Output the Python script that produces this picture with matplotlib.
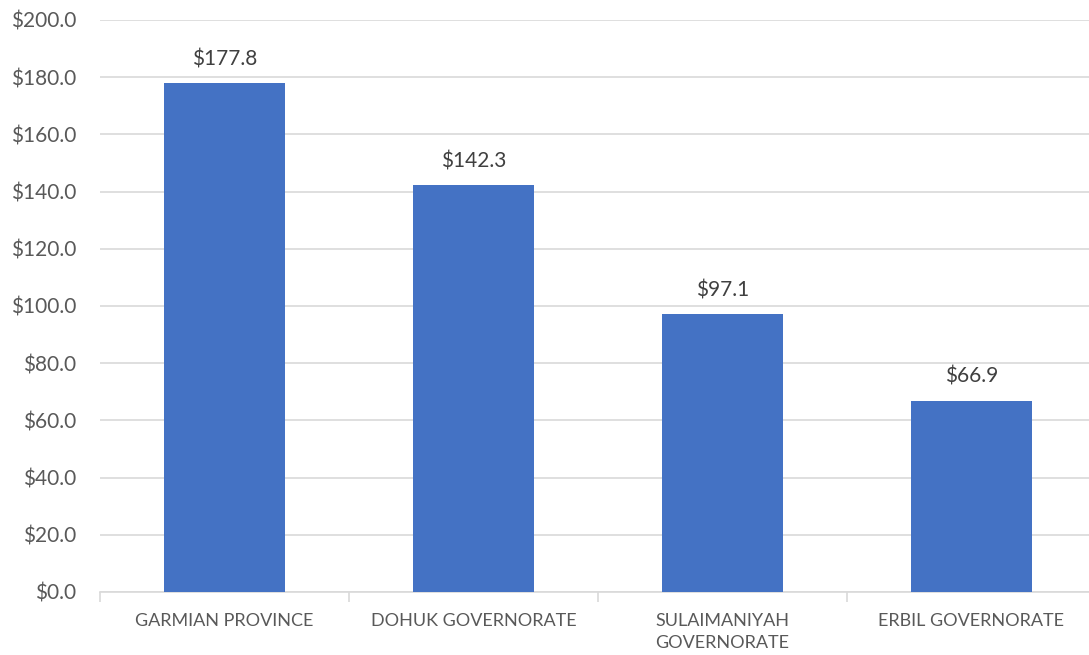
import matplotlib
matplotlib.use("Agg")
import matplotlib.pyplot as plt
from matplotlib.ticker import FuncFormatter, MultipleLocator

categories = ["GARMIAN PROVINCE", "DOHUK GOVERNORATE", "SULAIMANIYAH\nGOVERNORATE", "ERBIL GOVERNORATE"]
values = [177.8, 142.3, 97.1, 66.9]

plt.rcParams["font.family"] = ["Lato", "DejaVu Sans"]
text_color = "#595959"
grid_color = "#d9d9d9"
bar_color = "#4472c4"

W, H = 1089, 655
fig = plt.figure(figsize=(W / 100, H / 100), dpi=100)
ax = fig.add_axes([100 / W, (H - 592) / H, 996 / W, 572 / H])

x = list(range(len(categories)))
bars = ax.bar(x, values, width=0.482, color=bar_color, zorder=3)

ax.set_xlim(-0.5, len(categories) - 0.5)
ax.set_ylim(0, 200)
ax.yaxis.set_major_locator(MultipleLocator(20))
ax.yaxis.set_major_formatter(FuncFormatter(lambda v, _: f"${v:.1f}"))
ax.grid(axis="y", color=grid_color, linewidth=1.2, zorder=0)

for side in ("top", "right", "left"):
    ax.spines[side].set_visible(False)
ax.spines["bottom"].set_color(grid_color)
ax.spines["bottom"].set_linewidth(1.2)

ax.tick_params(axis="y", length=0, pad=17, labelsize=15, labelcolor=text_color)
ax.set_xticks(x)
ax.set_xticklabels(categories, fontsize=13, color=text_color, linespacing=1.45)
ax.tick_params(axis="x", length=0, pad=15)

# separator ticks between categories
ax.set_xticks([i - 0.5 for i in range(len(categories) + 1)], minor=True)
ax.tick_params(axis="x", which="minor", length=7, color=grid_color, width=1.2)

for b, v in zip(bars, values):
    ax.annotate(f"${v:.1f}", (b.get_x() + b.get_width() / 2, v),
                xytext=(0, 10), textcoords="offset points",
                ha="center", va="bottom", fontsize=15, color="#404040")

fig.savefig("out.png", dpi=100)
